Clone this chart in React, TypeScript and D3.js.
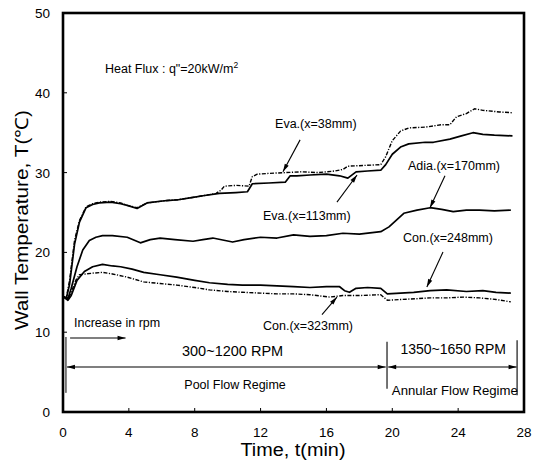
import React from "react";
import * as d3 from "d3";

const W = 543;
const H = 463;

const xTicks = [0, 4, 8, 12, 16, 20, 24, 28];
const yTicks = [0, 10, 20, 30, 40, 50];

const eva38T = [0, 0.2, 0.4, 0.7, 1.0, 1.4, 1.8, 2.2, 2.9, 3.5, 3.9, 4.5, 5.1, 6.3, 7.0, 7.9, 8.5, 9.3, 9.6, 9.8, 10.5, 11.3, 11.5, 11.8, 12.5, 13.5, 14.5, 15.5, 16.5, 17.0, 17.3, 18.3, 19.3, 19.6, 20.0, 20.5, 21.0, 22.0, 23.0, 23.5, 23.9, 24.5, 25.0, 25.5, 26.5, 27.3];
const eva38V = [14.5, 14.3, 16.5, 21.5, 24.0, 25.7, 26.1, 26.3, 26.4, 26.2, 25.9, 25.6, 26.2, 26.5, 26.6, 26.9, 27.1, 27.4, 27.8, 28.3, 28.4, 28.3, 29.5, 29.8, 29.9, 30.0, 30.1, 30.0, 30.2, 30.4, 30.8, 30.9, 31.0, 32.0, 34.0, 35.2, 35.6, 35.7, 36.0, 36.0, 37.0, 37.4, 38.0, 37.8, 37.6, 37.5];

const eva113T = [0, 0.2, 0.4, 0.7, 1.0, 1.4, 1.8, 2.2, 2.9, 3.5, 3.9, 4.5, 5.1, 6.3, 7.0, 7.9, 8.5, 9.5, 10.5, 11.2, 11.5, 12.5, 13.5, 13.8, 14.2, 15.0, 16.0, 16.8, 17.3, 17.8, 18.5, 19.3, 19.6, 20.0, 20.5, 21.0, 22.0, 22.5, 23.5, 24.2, 24.9, 25.5, 26.2, 27.3];
const eva113V = [14.5, 14.2, 16.0, 21.0, 23.8, 25.6, 26.0, 26.2, 26.3, 26.1, 25.9, 25.5, 26.2, 26.5, 26.6, 26.9, 27.1, 27.4, 27.5, 27.6, 28.6, 28.7, 28.8, 29.6, 29.6, 29.7, 29.8, 29.6, 29.3, 30.1, 30.2, 30.3, 31.0, 32.3, 33.2, 33.6, 33.8, 33.8, 34.2, 34.6, 35.0, 34.8, 34.7, 34.6];

const adiaT = [0, 0.3, 0.5, 0.85, 1.2, 1.6, 2.0, 2.4, 3.0, 3.9, 4.7, 5.3, 5.9, 6.8, 7.9, 8.5, 9.1, 10.3, 11.0, 12.0, 13.0, 14.0, 15.0, 16.0, 17.0, 18.0, 19.3, 19.8, 20.7, 21.5, 22.3, 23.0, 23.7, 24.5, 25.3, 26.2, 27.2];
const adiaV = [14.5, 14.2, 15.5, 18.2, 20.3, 21.5, 21.9, 22.1, 22.1, 21.9, 21.2, 21.6, 21.8, 21.6, 21.4, 21.6, 21.8, 21.3, 21.6, 21.9, 21.8, 22.2, 22.0, 22.1, 22.4, 22.3, 22.6, 23.2, 24.9, 25.3, 25.6, 25.4, 25.1, 25.3, 25.3, 25.2, 25.3];

const con248T = [0, 0.3, 0.5, 0.85, 1.3, 1.8, 2.4, 3.0, 3.5, 4.2, 4.9, 5.9, 6.9, 8.0, 8.9, 10.0, 10.9, 12.0, 13.0, 14.0, 15.0, 16.0, 16.8, 17.1, 17.4, 17.8, 18.5, 19.3, 19.7, 20.5, 21.3, 22.3, 23.3, 24.5, 25.5, 26.3, 27.2];
const con248V = [14.5, 14.0, 14.6, 16.5, 17.6, 18.2, 18.5, 18.3, 18.2, 17.9, 17.5, 17.2, 16.9, 16.5, 16.2, 16.0, 15.9, 15.9, 15.8, 15.7, 15.6, 15.7, 15.7, 15.2, 15.0, 15.5, 15.6, 15.5, 14.8, 14.9, 15.0, 15.2, 15.3, 15.1, 15.2, 15.0, 14.9];

const con323T = [0, 0.3, 0.5, 0.8, 1.0, 1.4, 1.8, 2.4, 3.0, 3.9, 4.9, 5.9, 6.9, 8.0, 8.9, 10.0, 10.9, 12.0, 13.0, 14.0, 15.0, 16.2, 17.0, 18.0, 19.3, 19.7, 20.5, 21.5, 22.3, 23.3, 24.3, 25.3, 26.3, 27.2];
const con323V = [14.5, 14.1, 15.0, 16.6, 17.2, 17.3, 17.4, 17.5, 17.3, 16.9, 16.3, 16.1, 15.9, 15.6, 15.3, 15.1, 15.0, 14.9, 14.8, 14.8, 14.7, 14.4, 14.6, 14.6, 14.7, 14.0, 14.1, 14.2, 14.3, 14.3, 14.4, 14.3, 14.1, 13.8];

const seriesNames = ["Eva.(x=38mm)", "Eva.(x=113mm)", "Adia.(x=170mm)", "Con.(x=248mm)", "Con.(x=323mm)"];

const FONT = "'Liberation Sans', Arial, Helvetica, sans-serif";

export default function App() {
  const x = d3.scaleLinear().domain([0, 28]).range([63, 524]);
  const y = d3.scaleLinear().domain([0, 50]).range([412, 13]);
  const line = d3
    .line<[number, number]>()
    .x((d) => x(d[0]))
    .y((d) => y(d[1]))
    .curve(d3.curveLinear);
  const zip = (a: number[], b: number[]) => a.map((t, i) => [t, b[i]] as [number, number]);

  const series = [
    { name: seriesNames[0], d: zip(eva38T, eva38V), dash: "4 1.5 1.2 1.5" },
    { name: seriesNames[1], d: zip(eva113T, eva113V), dash: null },
    { name: seriesNames[2], d: zip(adiaT, adiaV), dash: null },
    { name: seriesNames[3], d: zip(con248T, con248V), dash: null },
    { name: seriesNames[4], d: zip(con323T, con323V), dash: "4 1.5 1.2 1.5" },
  ];

  // labels in data units: [t, T] text position; arrows from -> to
  const labels = [
    { text: seriesNames[0], at: [12.88, 35.6], from: [14.4, 34.1], to: [13.36, 30.1] },
    { text: seriesNames[1], at: [12.15, 24.1], from: [16.64, 26.3], to: [17.86, 29.7] },
    { text: seriesNames[2], at: [20.95, 30.3], from: [23.2, 29.6], to: [22.29, 25.6] },
    { text: seriesNames[3], at: [20.65, 21.3], from: [23.08, 20.05], to: [22.1, 15.66] },
    { text: seriesNames[4], at: [12.15, 10.25], from: [15.73, 12.2], to: [16.64, 14.4] },
  ];

  const arrowPath = (x1: number, y1: number, x2: number, y2: number, len = 8, half = 2.2) => {
    const dx = x2 - x1;
    const dy = y2 - y1;
    const L = Math.sqrt(dx * dx + dy * dy);
    const ux = dx / L;
    const uy = dy / L;
    const bx = x2 - ux * len;
    const by = y2 - uy * len;
    return `M${x2},${y2}L${bx - uy * half},${by + ux * half}L${bx + uy * half},${by - ux * half}Z`;
  };

  const Arrow = ({ f, t, both = false }: { f: number[]; t: number[]; both?: boolean }) => {
    const x1 = x(f[0]);
    const y1 = y(f[1]);
    const x2 = x(t[0]);
    const y2 = y(t[1]);
    return (
      <g>
        <line x1={x1} y1={y1} x2={x2} y2={y2} stroke="#000" strokeWidth={1.1} />
        <path d={arrowPath(x1, y1, x2, y2)} fill="#000" />
        {both && <path d={arrowPath(x2, y2, x1, y1)} fill="#000" />}
      </g>
    );
  };

  return (
    <svg
      width={W}
      height={H}
      style={{ position: "absolute", left: 0, top: 0, background: "#fff" }}
      fontFamily={FONT}
    >
      <rect x={0} y={0} width={W} height={H} fill="#fff" />
      {/* curves */}
      {series.map((s) => (
        <path
          key={s.name}
          d={line(s.d) || ""}
          fill="none"
          stroke="#000"
          strokeWidth={s.dash ? 1.4 : 1.7}
          strokeDasharray={s.dash || undefined}
          strokeLinejoin="round"
        />
      ))}
      {/* frame */}
      <rect x={x(0)} y={y(50)} width={x(28) - x(0)} height={y(0) - y(50)} fill="none" stroke="#000" strokeWidth={2.6} />
      {/* ticks */}
      {xTicks.slice(1, -1).map((t) => (
        <line key={"xt" + t} x1={x(t)} x2={x(t)} y1={y(0)} y2={y(0) - 4} stroke="#000" strokeWidth={1} />
      ))}
      {yTicks.slice(1, -1).map((v) => (
        <line key={"yt" + v} x1={x(0)} x2={x(0) + 4} y1={y(v)} y2={y(v)} stroke="#000" strokeWidth={1} />
      ))}
      {xTicks.map((t) => (
        <text key={"xl" + t} x={x(t)} y={437} fontSize={13.5} textAnchor="middle" fill="#000">
          {t}
        </text>
      ))}
      {yTicks.map((v) => (
        <text key={"yl" + v} x={50} y={y(v) + 5} fontSize={13.5} textAnchor="end" fill="#000">
          {v}
        </text>
      ))}
      {/* axis titles */}
      <text x={293} y={456} fontSize={18} textAnchor="middle" textLength={105} lengthAdjust="spacingAndGlyphs">
        Time, t(min)
      </text>
      <text
        transform={`translate(28,220) rotate(-90)`}
        fontSize={18}
        textAnchor="middle"
        textLength={220}
        lengthAdjust="spacingAndGlyphs"
      >
        Wall Temperature, T(℃)
      </text>
      {/* heat flux */}
      <text x={x(2.55)} y={y(42.5)} fontSize={12.5}>
        Heat Flux : q"=20kW/m
        <tspan dy={-5} fontSize={8.5}>2</tspan>
      </text>
      {/* series labels */}
      {labels.map((l) => (
        <g key={l.text}>
          <text x={x(l.at[0])} y={y(l.at[1])} fontSize={12.5}>
            {l.text}
          </text>
          <Arrow f={l.from} t={l.to} />
        </g>
      ))}
      {/* rpm annotations */}
      <text x={x(0.67)} y={y(10.65)} fontSize={12.5}>
        Increase in rpm
      </text>
      <Arrow f={[0.43, 9.27]} t={[3.8, 9.27]} />
      <text x={x(10.3)} y={y(7.0)} fontSize={14.5} textAnchor="middle">
        300~1200 RPM
      </text>
      <text x={x(23.7)} y={y(7.3)} fontSize={14} textAnchor="middle">
        1350~1650 RPM
      </text>
      <Arrow f={[0.24, 5.64]} t={[19.6, 5.64]} both />
      <Arrow f={[19.75, 5.64]} t={[27.55, 5.64]} both />
      <line x1={x(0.18)} x2={x(0.18)} y1={y(9.4)} y2={y(2.4)} stroke="#000" strokeWidth={1} />
      <line x1={x(19.68)} x2={x(19.68)} y1={y(8.8)} y2={y(2.9)} stroke="#000" strokeWidth={1.1} />
      <line x1={x(27.58)} x2={x(27.58)} y1={y(9.0)} y2={y(2.1)} stroke="#000" strokeWidth={1.1} />
      <text x={x(10.45)} y={y(2.9)} fontSize={12.5} textAnchor="middle">
        Pool Flow Regime
      </text>
      <text x={x(23.8)} y={y(2.1)} fontSize={12.5} textAnchor="middle" textLength={126} lengthAdjust="spacingAndGlyphs">
        Annular Flow Regime
      </text>
    </svg>
  );
}
